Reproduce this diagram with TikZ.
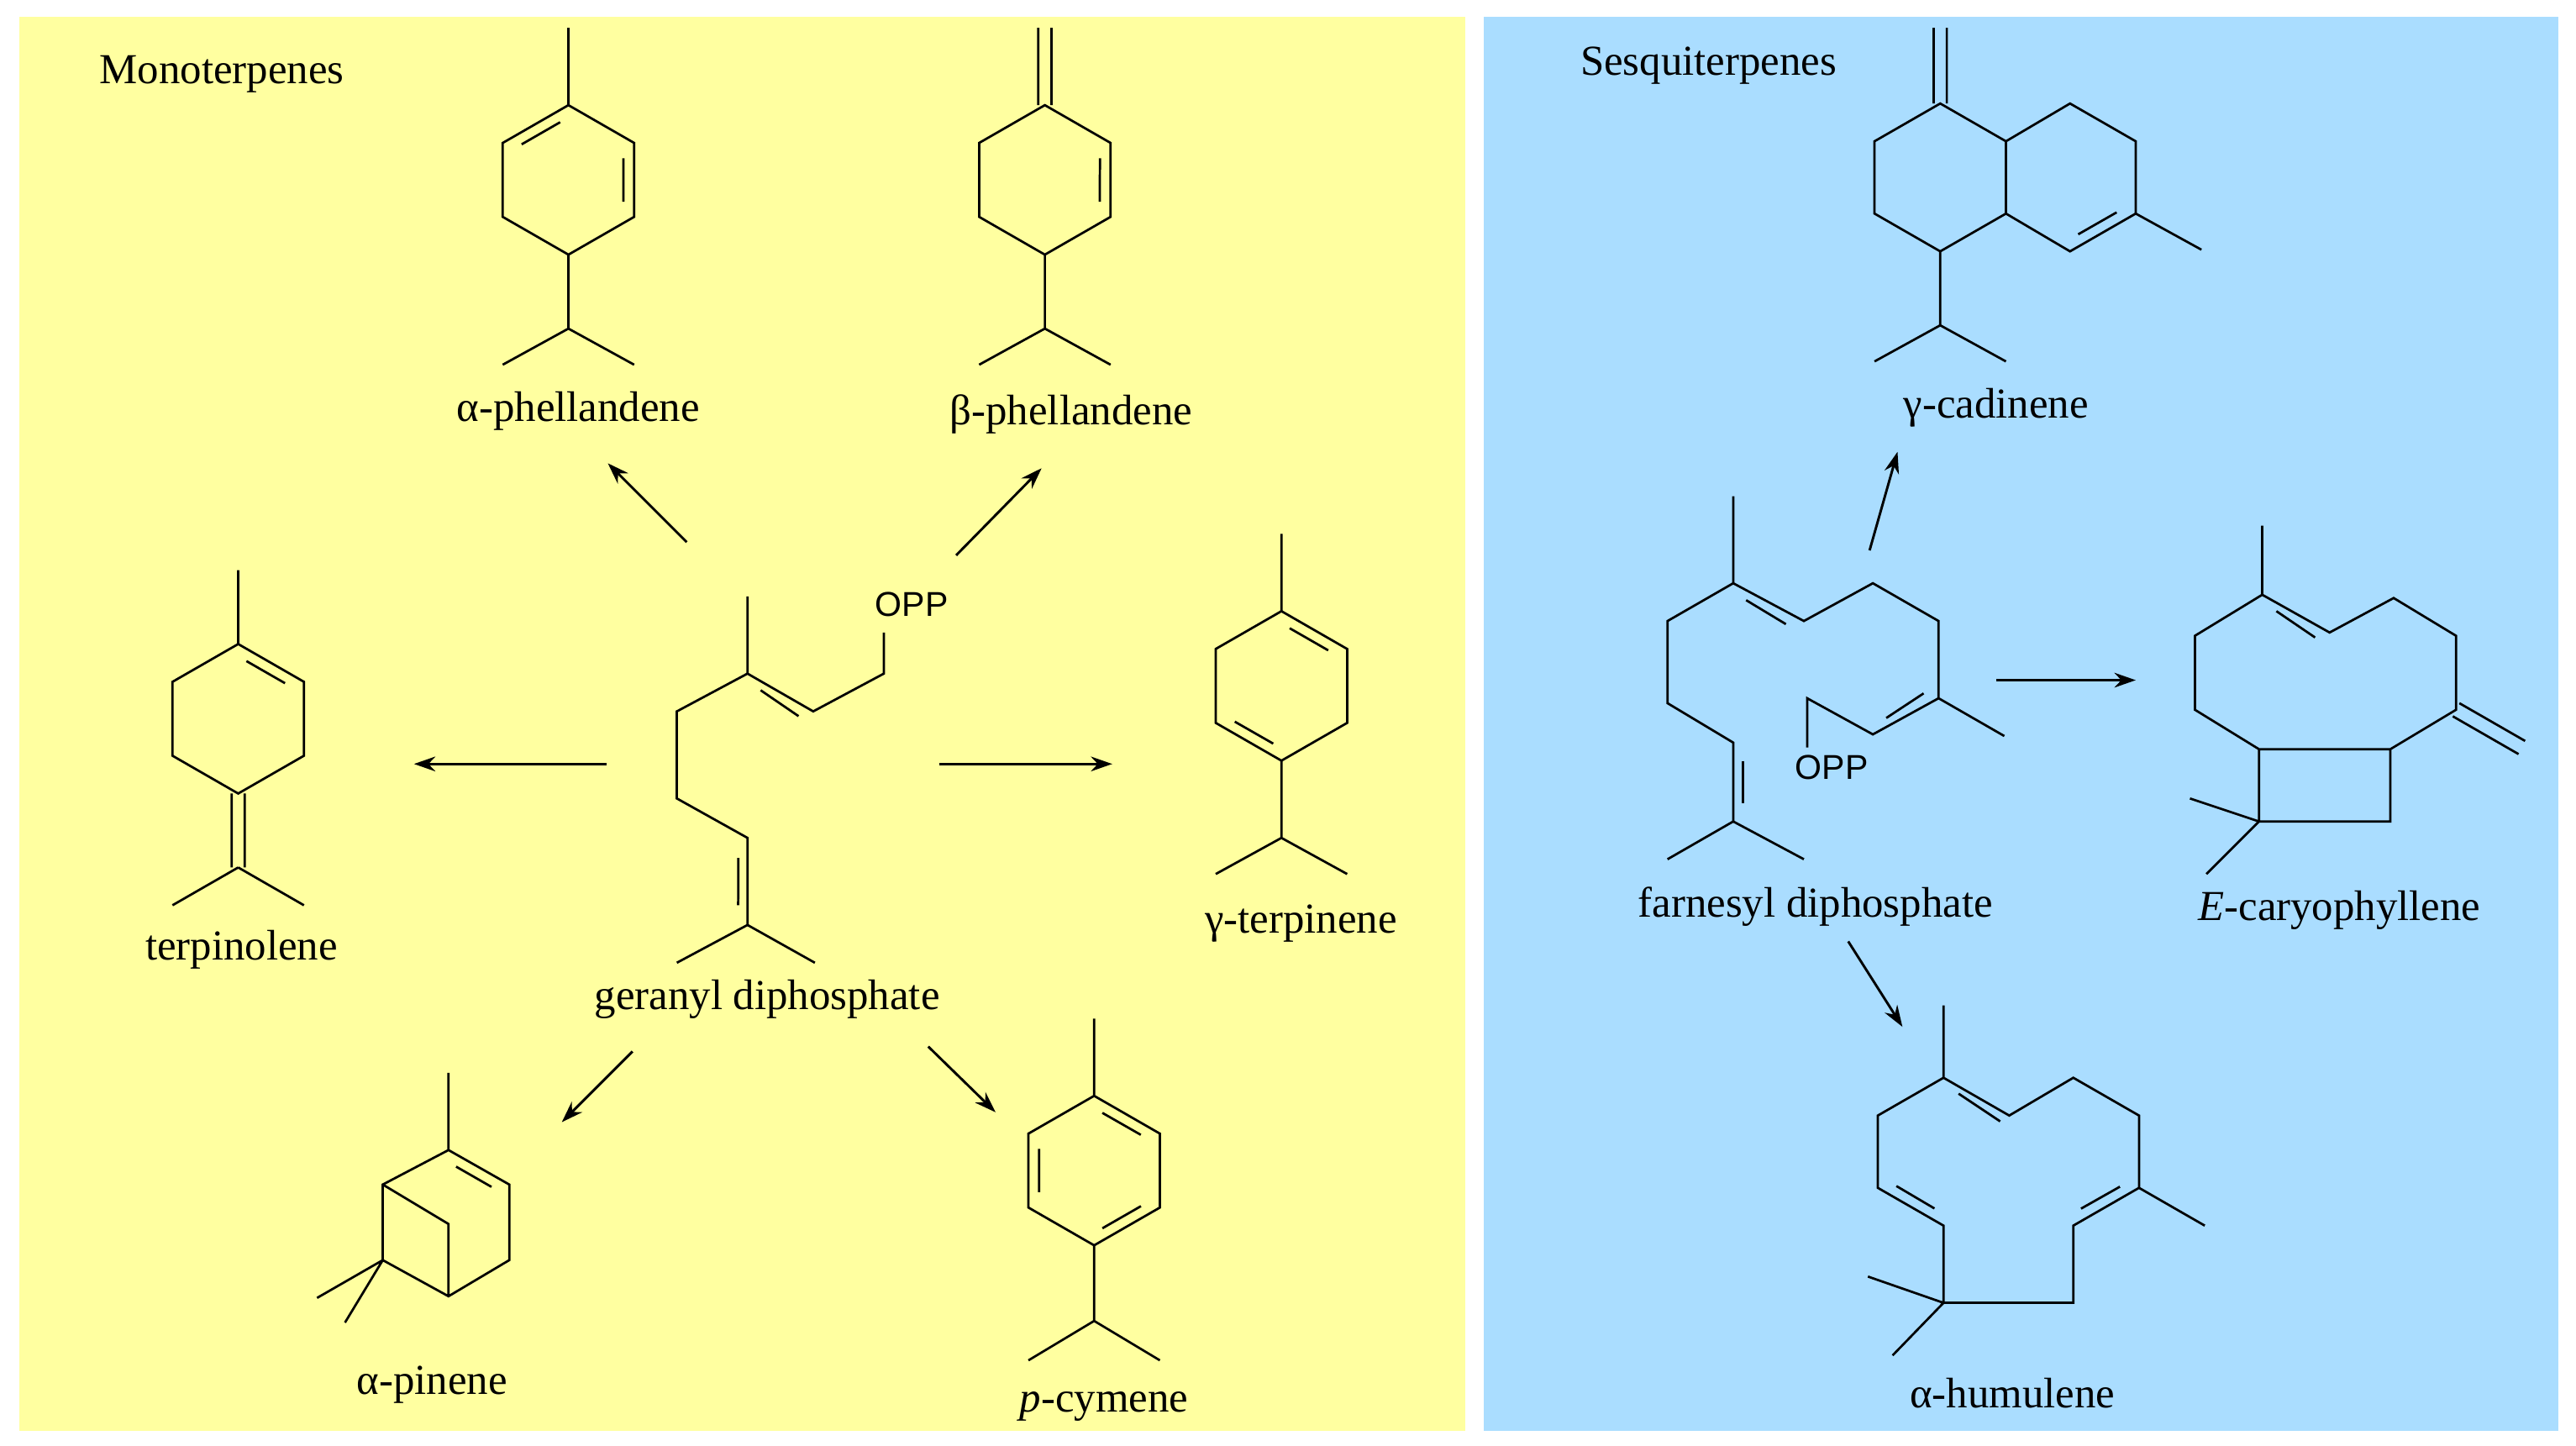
\documentclass[tikz,border=0pt]{standalone}
\usepackage{fontspec}
\setmainfont{Liberation Serif}
\newfontfamily\oppfont{Liberation Sans}
\usetikzlibrary{calc,arrows.meta}
\newcommand\db[3]{\draw ($ ($#1!.15!#2$)!7pt!#3 $) -- ($ ($#2!.15!#1$)!7pt!#3 $);}
\begin{document}
\begin{tikzpicture}[x=1pt,y=-1pt,line width=1.4pt,
 bond/.style={line join=miter},
 rxn/.style={-{Stealth[length=13pt,width=9pt]},line width=1.5pt},
 lbl/.style={font=\fontsize{26}{28}\selectfont,inner sep=0pt},
 opp/.style={font=\oppfont\fontsize{21}{24}\selectfont,inner sep=0pt}]
\useasboundingbox (0,0) rectangle (1568,880);
\fill[white] (0,0) rectangle (1568,880);
\fill[fill={rgb,255:red,255;green,255;blue,160}] (12,10) rectangle (892,871);
\fill[fill={rgb,255:red,170;green,221;blue,255}] (903,10) rectangle (1557,871);
\node[lbl] (tm) at (135,45) {Monoterpenes};
\node[lbl] (ts) at (1040,40) {Sesquiterpenes};
% alpha-phellandrene
\draw[bond] (346,17)--(346,64) (346,64)--(386,87)--(386,132)--(346,155)--(306,132)--(306,87)--cycle (346,155)--(346,200)--(306,222) (346,200)--(386,222);
\db{(306,87)}{(346,64)}{(346,110)} \db{(386,87)}{(386,132)}{(346,110)}
\node[lbl] (l1) at (352,250) {α-phellandene};
% beta-phellandrene
\draw[bond] (632,17)--(632,64) (640,17)--(640,64) (636,64)--(676,87)--(676,132)--(636,155)--(596,132)--(596,87)--cycle (636,155)--(636,200)--(596,222) (636,200)--(676,222);
\db{(676,87)}{(676,132)}{(636,110)}
\node[lbl] (l2) at (652,252) {β-phellandene};
% terpinolene
\draw[bond] (145,347)--(145,392) (145,392)--(185,415)--(185,460)--(145,483)--(105,460)--(105,415)--cycle (141,483)--(141,528) (149,483)--(149,528) (145,528)--(105,551) (145,528)--(185,551);
\db{(145,392)}{(185,415)}{(145,438)}
\node[lbl] (l3) at (147,578) {terpinolene};
% gamma-terpinene
\draw[bond] (780,325)--(780,372) (780,372)--(820,395)--(820,440)--(780,463)--(740,440)--(740,395)--cycle (780,463)--(780,510)--(740,532) (780,510)--(820,532);
\db{(780,372)}{(820,395)}{(780,418)} \db{(740,440)}{(780,463)}{(780,418)}
\node[lbl] (l4) at (792,562) {γ-terpinene};
% p-cymene
\draw[bond] (666,620)--(666,667) (666,667)--(706,690)--(706,735)--(666,758)--(626,735)--(626,690)--cycle (666,758)--(666,804)--(626,828) (666,804)--(706,828);
\db{(666,667)}{(706,690)}{(666,712)} \db{(626,690)}{(626,735)}{(666,712)} \db{(706,735)}{(666,758)}{(666,712)}
\node[lbl] (l5) at (672,856) {\textit{p}-cymene};
% alpha-pinene
\draw[bond] (273,653)--(273,700) (273,700)--(310,721)--(310,767)--(273,789)--(233,767)--(233,721)--cycle (233,721)--(273,745)--(273,789) (233,767)--(193,790) (233,767)--(210,805);
\db{(273,700)}{(310,721)}{(273,745)}
\node[lbl] (l6) at (263,843) {α-pinene};
% geranyl diphosphate
\draw[bond] (455,363)--(455,410)--(495,433)--(538,410)--(538,385) (455,410)--(412,433)--(412,486)--(455,510)--(455,563)--(412,586) (455,563)--(496,586);
\db{(455,410)}{(495,433)}{(475,460)} \db{(455,510)}{(455,563)}{(430,537)}
\node[opp] (opp1) at (555,368) {OPP};
\node[lbl] (l7) at (467,608) {geranyl diphosphate};
\draw[rxn] (418,330)--(370,282);
\draw[rxn] (582,338)--(634,285);
\draw[rxn] (369,465)--(252,465);
\draw[rxn] (572,465)--(677,465);
\draw[rxn] (385,640)--(342,683);
\draw[rxn] (565,637)--(606,677);
% farnesyl diphosphate
\draw[bond] (1055,302)--(1055,355)--(1098,378)--(1140,355)--(1180,378)--(1180,425)--(1220,448) (1180,425)--(1140,447)--(1100,425)--(1100,455) (1055,355)--(1015,378)--(1015,428)--(1055,452)--(1055,500)--(1015,523) (1055,500)--(1098,523);
\db{(1055,355)}{(1098,378)}{(1070,400)} \db{(1180,425)}{(1140,447)}{(1160,400)} \db{(1055,452)}{(1055,500)}{(1080,476)}
\node[opp] (opp2) at (1115,467) {OPP};
\node[lbl] (l8) at (1105,552) {farnesyl diphosphate};
% gamma-cadinene
\draw[bond] (1177,17)--(1177,63) (1185,17)--(1185,63) (1181,63)--(1221,86)--(1221,130)--(1181,153)--(1141,130)--(1141,86)--cycle (1221,86)--(1260,63)--(1300,86)--(1300,130)--(1260,153)--(1221,130) (1300,130)--(1340,152) (1181,153)--(1181,198)--(1141,220) (1181,198)--(1221,220);
\db{(1300,130)}{(1260,153)}{(1260,108)}
\node[lbl] (l9) at (1215,248) {γ-cadinene};
\draw[rxn] (1138,335)--(1155,275);
% caryophyllene
\draw[bond] (1377,320)--(1377,362) (1377,362)--(1418,385)--(1457,364)--(1495,387)--(1495,432)--(1455,456)--(1375,456)--(1336,432)--(1336,387)--cycle (1375,456)--(1375,500)--(1455,500)--(1455,456) (1375,500)--(1333,486) (1375,500)--(1343,532);
\draw (1497,428)--(1537,451) (1493,436)--(1533,459);
\db{(1377,362)}{(1418,385)}{(1400,410)}
\node[lbl] (l10) at (1424,554) {\textit{E}-caryophyllene};
\draw[rxn] (1215,414)--(1300,414);
% humulene
\draw[bond] (1183,612)--(1183,656) (1183,656)--(1223,679)--(1262,656)--(1302,679)--(1302,723)--(1262,746)--(1262,793)--(1183,793)--(1183,746)--(1143,723)--(1143,679)--cycle (1302,723)--(1342,746) (1183,793)--(1137,777) (1183,793)--(1152,825);
\db{(1183,656)}{(1223,679)}{(1220,720)} \db{(1302,723)}{(1262,746)}{(1260,700)} \db{(1183,746)}{(1143,723)}{(1180,700)}
\node[lbl] (l11) at (1225,848) {α-humulene};
\draw[rxn] (1125,573)--(1158,625);
\end{tikzpicture}
\end{document}
